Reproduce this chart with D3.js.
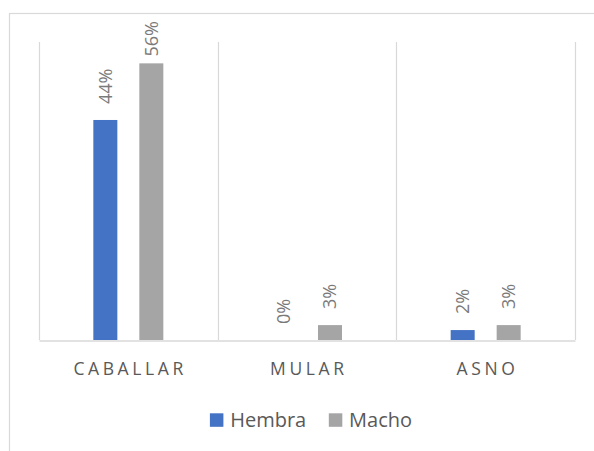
<!DOCTYPE html>
<html>
<head>
<meta charset="utf-8">
<script src="https://cdn.jsdelivr.net/npm/d3@7"></script>
<style>
  html, body { margin: 0; padding: 0; background: #ffffff; }
  svg { display: block; }
</style>
</head>
<body>
<svg id="chart" width="594" height="451"></svg>
<script>
// ---- data ----
const categories = ["CABALLAR", "MULAR", "ASNO"];
const seriesNames = ["Hembra", "Macho"];
const hembraValues = [0.443, 0.0, 0.02];
const machoValues = [0.557, 0.03, 0.03];
const seriesColors = ["#4472C4", "#A5A5A5"];
const yMax = 0.6;

const seriesValues = [hembraValues, machoValues];

const svg = d3.select("#chart");
const FONT = "'Open Sans', 'Noto Sans', sans-serif";

// chart frame
svg.append("rect")
  .attr("x", 9.5).attr("y", 13.5)
  .attr("width", 700).attr("height", 500)
  .attr("fill", "#ffffff")
  .attr("stroke", "#d9d9d9").attr("stroke-width", 1.2);

const plot = { left: 39, right: 575, top: 42, bottom: 340 };

const x0 = d3.scaleBand().domain(categories).range([plot.left, plot.right]).padding(0);
const bw = x0.bandwidth();
const groupWidth = 70;
const x1 = d3.scaleBand().domain(seriesNames)
  .range([bw / 2 - groupWidth / 2, bw / 2 + groupWidth / 2])
  .paddingInner(0.478).paddingOuter(0);
const y = d3.scaleLinear().domain([0, yMax]).range([plot.bottom, plot.top]);

// vertical category separators
const bounds = categories.map(c => x0(c)).concat([x0(categories[categories.length - 1]) + bw]);
svg.append("g").selectAll("line").data(bounds).join("line")
  .attr("x1", d => Math.round(d) + 0.5).attr("x2", d => Math.round(d) + 0.5)
  .attr("y1", plot.top).attr("y2", plot.bottom)
  .attr("stroke", "#d9d9d9").attr("stroke-width", 1.2);

// bars
const groups = svg.append("g").selectAll("g").data(categories).join("g")
  .attr("transform", c => `translate(${x0(c)},0)`);

const barData = (c, ci) => seriesNames.map((s, si) => ({ s, si, v: seriesValues[si][ci] }));

groups.selectAll("rect").data((c, ci) => barData(c, ci)).join("rect")
  .attr("x", d => x1(d.s))
  .attr("y", d => y(d.v))
  .attr("width", x1.bandwidth())
  .attr("height", d => y(0) - y(d.v))
  .attr("fill", d => seriesColors[d.si]);

// baseline (category axis)
const xAxis = d3.axisBottom(x0).tickSize(0).tickPadding(0).tickFormat("");
const axG = svg.append("g").attr("transform", `translate(0,${plot.bottom + 0.5})`).call(xAxis);
axG.select(".domain").attr("stroke", "#d9d9d9").attr("stroke-width", 1.4);
axG.selectAll(".tick").remove();

// category labels with letter spacing
const ls = 3.6;
svg.append("g").selectAll("text").data(categories).join("text")
  .attr("x", c => x0(c) + bw / 2 + ls / 2)
  .attr("y", 375)
  .attr("text-anchor", "middle")
  .style("font-family", FONT)
  .style("font-size", "17.5px")
  .style("letter-spacing", ls + "px")
  .attr("fill", "#595959")
  .text(c => c);

// data labels (rotated)
const fmt = d3.format(".0%");
const lblSize = 18;
groups.selectAll("text.lbl").data((c, ci) => barData(c, ci)).join("text")
  .attr("class", "lbl")
  .style("font-family", FONT)
  .style("font-size", lblSize + "px")
  .attr("fill", "#7a7a7a")
  .attr("text-anchor", "start")
  .text(d => fmt(d.v))
  .each(function(d) {
    const len = this.getComputedTextLength();
    const cx = x1(d.s) + x1.bandwidth() / 2 + lblSize * 0.714 / 2;
    const bottom = Math.max(y(d.v) - 16, 21 + len);
    d3.select(this).attr("transform", `translate(${cx},${bottom}) rotate(-90)`);
  });

// legend
const legend = svg.append("g");
const items = legend.selectAll("g").data(seriesNames).join("g");
items.append("rect")
  .attr("width", 13.5).attr("height", 13.5)
  .attr("y", 413.3)
  .attr("fill", (d, i) => seriesColors[i]);
items.append("text")
  .attr("x", 20.3).attr("y", 426.7)
  .style("font-family", FONT)
  .style("font-size", "20px")
  .attr("fill", "#595959")
  .text(d => d);
let widths = [];
items.each(function() { widths.push(20.3 + d3.select(this).select("text").node().getComputedTextLength()); });
const gapItems = 22.6;
const total = d3.sum(widths) + gapItems * (widths.length - 1);
let cursor = 311 - total / 2;
items.each(function(d, i) {
  d3.select(this).attr("transform", `translate(${cursor},0)`);
  cursor += widths[i] + gapItems;
});
</script>
</body>
</html>
